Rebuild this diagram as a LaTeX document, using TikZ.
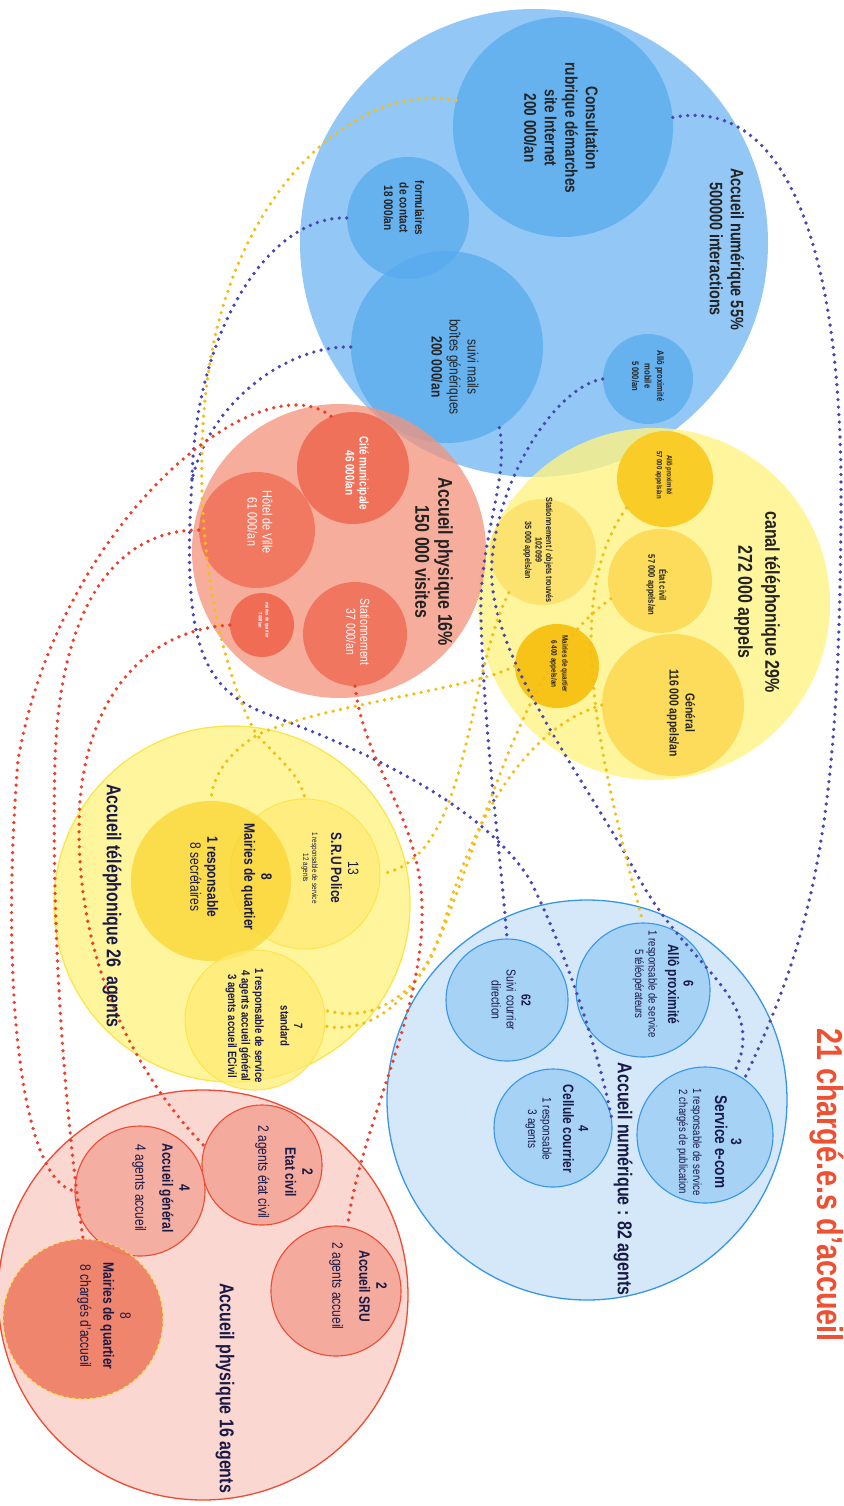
\documentclass[tikz,border=0pt]{standalone}
\usepackage{fontspec}
\setmainfont{Liberation Sans}[FakeStretch=0.8]
\usepackage{tikz}

\definecolor{numbig}{RGB}{147,199,245}
\definecolor{numsub}{RGB}{87,171,238}
\definecolor{telbig}{RGB}{255,242,132}
\definecolor{telgold}{RGB}{250,204,40}
\definecolor{telsub}{RGB}{252,220,90}
\definecolor{telpale}{RGB}{252,226,110}
\definecolor{telmq}{RGB}{247,195,25}
\definecolor{physbig}{RGB}{243,146,122}
\definecolor{physsub}{RGB}{240,108,84}
\definecolor{agjaune}{RGB}{255,245,157}
\definecolor{agjaunebord}{RGB}{253,228,75}
\definecolor{agjaunesub}{RGB}{255,236,115}
\definecolor{agmq}{RGB}{250,214,55}
\definecolor{agbleu}{RGB}{212,232,250}
\definecolor{agbleusub}{RGB}{166,210,246}
\definecolor{agbleubord}{RGB}{55,150,232}
\definecolor{agrouge}{RGB}{250,215,208}
\definecolor{agrougesub}{RGB}{245,170,158}
\definecolor{agrougebord}{RGB}{240,75,50}
\definecolor{agmqrouge}{RGB}{240,125,100}
\definecolor{dotbleu}{RGB}{70,70,180}
\definecolor{dotjaune}{RGB}{245,190,20}
\definecolor{dotrouge}{RGB}{240,60,40}
\definecolor{inkgray}{RGB}{35,35,35}
\definecolor{inknavy}{RGB}{25,25,70}
\definecolor{titrerouge}{RGB}{240,80,50}

\newcommand{\fsz}[2]{\fontsize{#1}{#2}\selectfont}

\tikzset{
  bulle/.style={circle, inner sep=0pt, minimum size=#1},
  txt/.style={rotate=-90, align=center, inner sep=0pt, text=inkgray},
  txtag/.style={rotate=-90, align=center, inner sep=0pt, text=inknavy},
  txtblanc/.style={rotate=-90, align=center, inner sep=0pt, text=white},
  pointille/.style={line width=3.7pt, line cap=round, dash pattern=on 0pt off 7.5pt},
  pbleu/.style={pointille, draw=dotbleu},
  pjaune/.style={pointille, draw=dotjaune},
  prouge/.style={pointille, draw=dotrouge}
}

\begin{document}
\begin{tikzpicture}[x=1pt, y=-1pt]
  \useasboundingbox (0,0) rectangle (843,1506);

  % canal numerique
  \node[bulle=468pt, fill=numbig] (numcanal) at (534,243) {};
  \node[bulle=220pt, fill=numsub, fill opacity=.75] (consult) at (563,127) {};
  \node[bulle=122pt, fill=numsub, fill opacity=.75] (formu) at (408,218) {};
  \node[bulle=192pt, fill=numsub, fill opacity=.75] (mails) at (447,347) {};
  \node[bulle=90pt, fill=numsub, fill opacity=.75] (allomob) at (648,379) {};

  % canal telephonique
  \node[bulle=352pt, fill=telbig, fill opacity=.8] (telcanal) at (654,604) {};
  \node[bulle=96pt, fill=telgold] (allo57) at (665,479) {};
  \node[bulle=104pt, fill=telsub] (ecanal) at (660,581) {};
  \node[bulle=142pt, fill=telsub] (general) at (673,705) {};
  \node[bulle=106pt, fill=telpale] (statobj) at (543,552) {};
  \node[bulle=84pt, fill=telmq] (mq6400) at (557,666) {};

  % canal physique
  \node[bulle=294pt, fill=physbig, fill opacity=.75] (physcanal) at (339,551) {};
  \node[bulle=112pt, fill=physsub, fill opacity=.9] (cite) at (353,468) {};
  \node[bulle=116pt, fill=physsub, fill opacity=.8] (hotel) at (257,530) {};
  \node[bulle=104pt, fill=physsub, fill opacity=.85] (stat37) at (355,634) {};
  \node[bulle=64pt, fill=physsub] (mqsmall) at (262,625) {};

  % agents accueil physique
  \node[bulle=410pt, fill=agrouge, draw=agrougebord, line width=1.3pt] (physag) at (203,1295) {};
  \node[bulle=120pt, fill=agrougesub, draw=agrougebord, line width=1.1pt] (ecag) at (262,1165) {};
  \node[bulle=130pt, fill=agrougesub, fill opacity=.9, draw=agrougebord, line width=1.1pt] (agen) at (140,1191) {};
  \node[bulle=130pt, fill=agrougesub, draw=agrougebord, line width=1.1pt] (sru2) at (336,1291) {};
  \node[bulle=160pt, fill=agmqrouge, fill opacity=.9, draw=agjaunebord, dashed, line width=1.2pt] (mq8b) at (83,1319) {};

  % agents accueil telephonique
  \node[bulle=356pt, fill=agjaune, draw=agjaunebord, line width=1.3pt] (telag) at (232,904) {};
  \node[bulle=150pt, fill=agjaunesub, fill opacity=.7, draw=agjaunebord, line width=1pt] (sru) at (305,874) {};
  \node[bulle=160pt, fill=agmq, fill opacity=.8] (mq8) at (211,881) {};
  \node[bulle=140pt, fill=agjaunesub, fill opacity=.75, draw=agjaunebord, line width=1pt] (standard) at (255,1020) {};

  % agents accueil numerique
  \node[bulle=400pt, fill=agbleu, draw=agbleubord, line width=1.3pt] (numag) at (587,1100) {};
  \node[bulle=134pt, fill=agbleusub, draw=agbleubord, line width=1.1pt] (allo6) at (643,990) {};
  \node[bulle=122pt, fill=agbleusub, draw=agbleubord, line width=1.1pt] (suivic) at (507,1000) {};
  \node[bulle=136pt, fill=agbleusub, draw=agbleubord, line width=1.1pt] (ecom) at (705,1135) {};
  \node[bulle=118pt, fill=agbleusub, draw=agbleubord, line width=1.1pt] (cellule) at (553,1128) {};

  % liaisons
  \coordinate (jbleu) at (192,480);
  \coordinate (jjaune) at (257,735);

  \draw[pbleu] (consult.5) .. controls (790,95) and (842,260) .. (841,500)
    .. controls (840,820) and (815,930) .. (ecom.55);
  \draw[pbleu] (formu.west) .. controls (270,215) and (195,330) .. (jbleu);
  \draw[pbleu] (mails.west) .. controls (290,345) and (210,400) .. (jbleu);
  \draw[pbleu] (jbleu) .. controls (182,640) and (200,690) .. (270,715)
    .. controls (350,745) and (480,800) .. (530,880)
    .. controls (570,960) and (600,1060) .. (cellule.10);
  \draw[pbleu] (mails.-57) .. controls (510,480) and (478,540) .. (481,620)
    .. controls (484,730) and (500,850) .. (suivic.north);
  \draw[pbleu] (allomob.west) .. controls (560,385) and (500,470) .. (492,560)
    .. controls (484,650) and (580,770) .. (640,880)
    .. controls (690,970) and (770,1000) .. (ecom.65);

  \draw[pjaune] (consult.166) .. controls (360,80) and (225,190) .. (205,400)
    .. controls (190,560) and (230,690) .. (jjaune)
    .. controls (280,760) and (300,775) .. (sru.north);
  \draw[pjaune] (mq6400.west) .. controls (470,690) and (320,705) .. (jjaune)
    .. controls (230,752) and (212,775) .. (mq8.north);
  \draw[pjaune] (statobj.230) .. controls (465,680) and (470,860) .. (sru.east);
  \draw[pjaune] (ecanal.200) .. controls (520,660) and (480,850) .. (430,960)
    .. controls (400,1010) and (360,1020) .. (standard.8);
  \draw[pjaune] (general.west) .. controls (520,730) and (470,830) .. (445,920)
    .. controls (420,1000) and (370,1035) .. (standard.-5);
  \draw[pjaune] (allo57.217) .. controls (560,600) and (600,760) .. (allo6.north);

  \draw[prouge] (cite.113) .. controls (260,360) and (60,520) .. (18,760)
    .. controls (0,980) and (20,1180) .. (agen.west);
  \draw[prouge] (hotel.west) .. controls (120,530) and (60,600) .. (55,760)
    .. controls (50,960) and (70,1150) .. (mq8b.north);
  \draw[prouge] (mqsmall.west) .. controls (150,630) and (90,690) .. (80,800)
    .. controls (70,960) and (140,1080) .. (ecag.162);
  \draw[prouge] (stat37.south) .. controls (365,770) and (425,820) .. (422,920)
    .. controls (420,1020) and (360,1130) .. (sru2.80);

  % textes canaux
  \node[txt, font=\bfseries\fsz{18}{21}] (numcanal-t) at (727,249) {Accueil numérique 55\%\\500000 interactions};
  \node[txt, font=\bfseries\fsz{17}{20.5}] (consult-t) at (561,128) {Consultation\\rubrique démarches\\site Internet\\200 000/an};
  \node[txt, font=\bfseries\fsz{12.5}{15.5}] (formu-t) at (404,208) {formulaires\\de contact\\18 000/an};
  \node[txt, font=\fsz{15}{18}] (mails-t) at (455,367) {suivi mails\\boîtes génériques\\\textbf{200 000/an}};
  \node[txt, font=\bfseries\fsz{9.5}{12.5}] (allomob-t) at (648,376) {Allô proximité\\mobile\\5 000/an};

  \node[txt, font=\bfseries\fsz{20}{27}] (telcanal-t) at (757,602) {canal téléphonique 29\%\\272 000 appels};
  \node[txt, font=\bfseries\fsz{7.5}{10}] (allo57-t) at (664,475) {Allô proximité\\57 000 appels/an};
  \node[txt, font=\bfseries\fsz{9.5}{11}] (ecanal-t) at (657,585) {État civil\\57 000 appels/an};
  \node[txt, font=\bfseries\fsz{13}{16}] (general-t) at (681,713) {Général\\116 000 appels/an};
  \node[txt, font=\bfseries\fsz{9}{10.5}] (statobj-t) at (538,550) {Stationnement / objets trouvés\\102099\\35 000 appels/an};
  \node[txt, font=\bfseries\fsz{8}{11}] (mq6400-t) at (559,664) {Mairies de quartier\\6 400 appels/an};

  \node[txt, font=\bfseries\fsz{20}{23}] (physcanal-t) at (434,562) {Accueil physique 16\%\\150 000 visites};
  \node[txtblanc, font=\bfseries\fsz{12.5}{14}] (cite-t) at (357,473) {Cité municipale\\46 000/an};
  \node[txtblanc, font=\fsz{13.5}{15}] (hotel-t) at (260,522) {Hôtel de Ville\\61 000/an};
  \node[txtblanc, font=\fsz{13}{14}] (stat37-t) at (358,632) {Stationnement\\37 000/an};
  \node[txtblanc, font=\bfseries\fsz{5}{7}] (mqsmall-t) at (264,620) {mairies de quartier\\7 000/an};

  % textes agents telephone
  \node[txtag, font=\bfseries\fsz{20}{23}] (telag-t) at (112,906) {Accueil téléphonique 26\ \ agents};
  \node[txtag, font=\fsz{15}{17}] (sru-t) at (330,868) {13\\\textbf{S.R.U Police}\\[2pt]{\fsz{8}{9}1 responsable de service}\\[-8pt]{\fsz{8}{9}12 agents}};
  \node[txtag, font=\bfseries\fsz{15}{17}] (mq8-t) at (231,877) {8\\Mairies de quartier\\[20pt]1 responsable\\{\mdseries 8 secrétaires}};
  \node[txtag, font=\bfseries\fsz{12}{13.5}] (standard-t) at (264,1026) {7\\standard\\[12pt]1 responsable de service\\4 agents accueil général\\3 agents accueil ECivil};

  % textes agents numerique
  \node[txtag, font=\bfseries\fsz{20}{23}] (numag-t) at (623,1179) {Accueil numérique : 82 agents};
  \node[txtag, font=\fsz{12}{13.5}] (allo6-t) at (663,984) {{\bfseries\fsz{14}{16}6}\\[2pt]{\bfseries\fsz{15}{17}Allô proximité}\\[6pt]1 responsable de service\\5 téléopérateurs};
  \node[txtag, font=\fsz{13}{15}] (suivic-t) at (511,1000) {\textbf{62}\\Suivi courrier\\direction};
  \node[txtag, font=\fsz{12}{14}] (ecom-t) at (709,1142) {{\bfseries\fsz{15}{17}3}\\[2pt]{\bfseries\fsz{17}{19}Service e-com}\\[8pt]1 responsable de service\\2 chargés de publication};
  \node[txtag, font=\fsz{12.5}{14.5}] (cellule-t) at (557,1129) {{\bfseries\fsz{14}{16}4}\\[1pt]{\bfseries\fsz{15}{17}Cellule courrier}\\[6pt]1 responsable\\3 agents};

  % textes agents physique
  \node[txtag, font=\bfseries\fsz{20}{23}] (physag-t) at (225,1388) {Accueil physique 16 agents};
  \node[txtag, font=\fsz{15}{17}] (ecag-t) at (284,1172) {\textbf{2}\\\textbf{Etat civil}\\[10pt]2 agents état civil};
  \node[txtag, font=\fsz{15}{17}] (agen-t) at (161,1188) {\textbf{4}\\\textbf{Accueil général}\\[10pt]4 agents accueil};
  \node[txtag, font=\fsz{15}{17}] (sru2-t) at (358,1286) {\textbf{2}\\\textbf{Accueil SRU}\\[10pt]2 agents accueil};
  \node[txtag, font=\fsz{15}{17}] (mq8b-t) at (104,1316) {8\\\textbf{Mairies de quartier}\\[6pt]8 chargés d'accueil};

  % titre
  \node[rotate=-90, inner sep=0pt, text=titrerouge, font=\bfseries\fsz{36}{40}] (titre) at (827,1185) {21 chargé.e.s d'accueil};
\end{tikzpicture}
\end{document}
